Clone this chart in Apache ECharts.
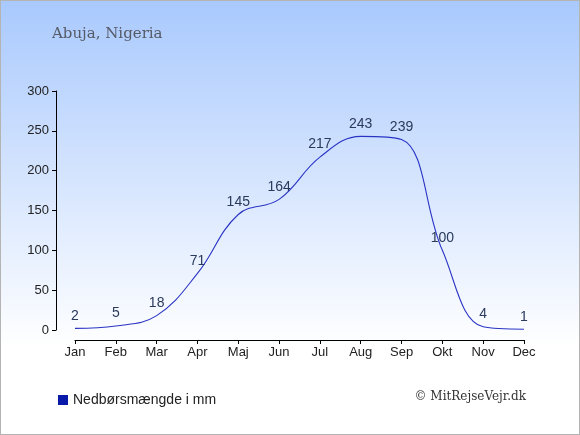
<!DOCTYPE html>
<html>
<head>
<meta charset="utf-8">
<script src="https://cdn.jsdelivr.net/npm/echarts@6/dist/echarts.min.js"></script>
<style>
    html, body { margin: 0; padding: 0; }
    #chart { width: 580px; height: 435px; box-sizing: border-box; border: 1px solid #b4b4b4; }
</style>
</head>
<body>
<div id="chart"></div>
<script>
// months (Danish) and rainfall in mm
var months = ['Jan', 'Feb', 'Mar', 'Apr', 'Maj', 'Jun', 'Jul', 'Aug', 'Sep', 'Okt', 'Nov', 'Dec'];
var rain = [2, 5, 18, 71, 145, 164, 217, 243, 239, 100, 4, 1];
var yTicks = [0, 50, 100, 150, 200, 250, 300];

var chart = echarts.init(document.getElementById('chart'));

var option = {
    animation: false,
    backgroundColor: {
        type: 'linear', x: 0, y: 0, x2: 0, y2: 1,
        colorStops: [
            { offset: 0, color: '#a9c9fd' },
            { offset: 0.8, color: '#ffffff' },
            { offset: 1, color: '#ffffff' }
        ]
    },
    title: {
        text: 'Abuja, Nigeria',
        left: 46,
        top: 21,
        textStyle: { fontFamily: 'DejaVu Serif', fontWeight: 'normal', fontSize: 15, color: '#555a66' }
    },
    legend: {
        left: 52,
        top: 387,
        itemWidth: 10,
        itemHeight: 10,
        itemGap: 6,
        icon: 'rect',
        textStyle: { fontFamily: 'Liberation Sans', fontSize: 14, color: '#222' },
        data: [{ name: 'Nedbørsmængde i mm', itemStyle: { color: '#0a1aa8', opacity: 1 } }]
    },
    graphic: [{
        type: 'text',
        right: 53,
        top: 390,
        style: { text: '© MitRejseVejr.dk', font: '12px "DejaVu Serif"', fill: '#333' }
    }],
    grid: { left: 74, right: 55, top: 90, bottom: 104 },
    xAxis: {
        type: 'category',
        data: months,
        boundaryGap: false,
        offset: 10,
        axisLine: { onZero: false, lineStyle: { color: '#000' } },
        axisTick: { length: 4, lineStyle: { color: '#000' } },
        axisLabel: { color: '#222', fontFamily: 'Liberation Sans', fontSize: 13, margin: 6 },
        splitLine: { show: false }
    },
    yAxis: {
        type: 'value',
        min: yTicks[0],
        max: yTicks[yTicks.length - 1],
        interval: 50,
        offset: 19,
        axisLine: { show: true, onZero: false, lineStyle: { color: '#000' } },
        axisTick: { show: true, inside: false, length: 4, lineStyle: { color: '#000' } },
        axisLabel: { color: '#222', fontFamily: 'Liberation Sans', fontSize: 13, margin: 7 },
        splitLine: { show: false }
    },
    series: [{
        name: 'Nedbørsmængde i mm',
        type: 'line',
        data: rain,
        smooth: 0.4,
        symbol: 'circle',
        symbolSize: 1,
        showSymbol: true,
        lineStyle: { color: '#2a34c4', width: 1.1 },
        itemStyle: { color: 'rgba(0,0,0,0)' },
        label: {
            show: true,
            position: 'top',
            distance: 5,
            color: '#2a3a5c',
            fontFamily: 'Liberation Sans',
            fontSize: 14
        }
    }]
};

chart.setOption(option);
</script>
</body>
</html>
